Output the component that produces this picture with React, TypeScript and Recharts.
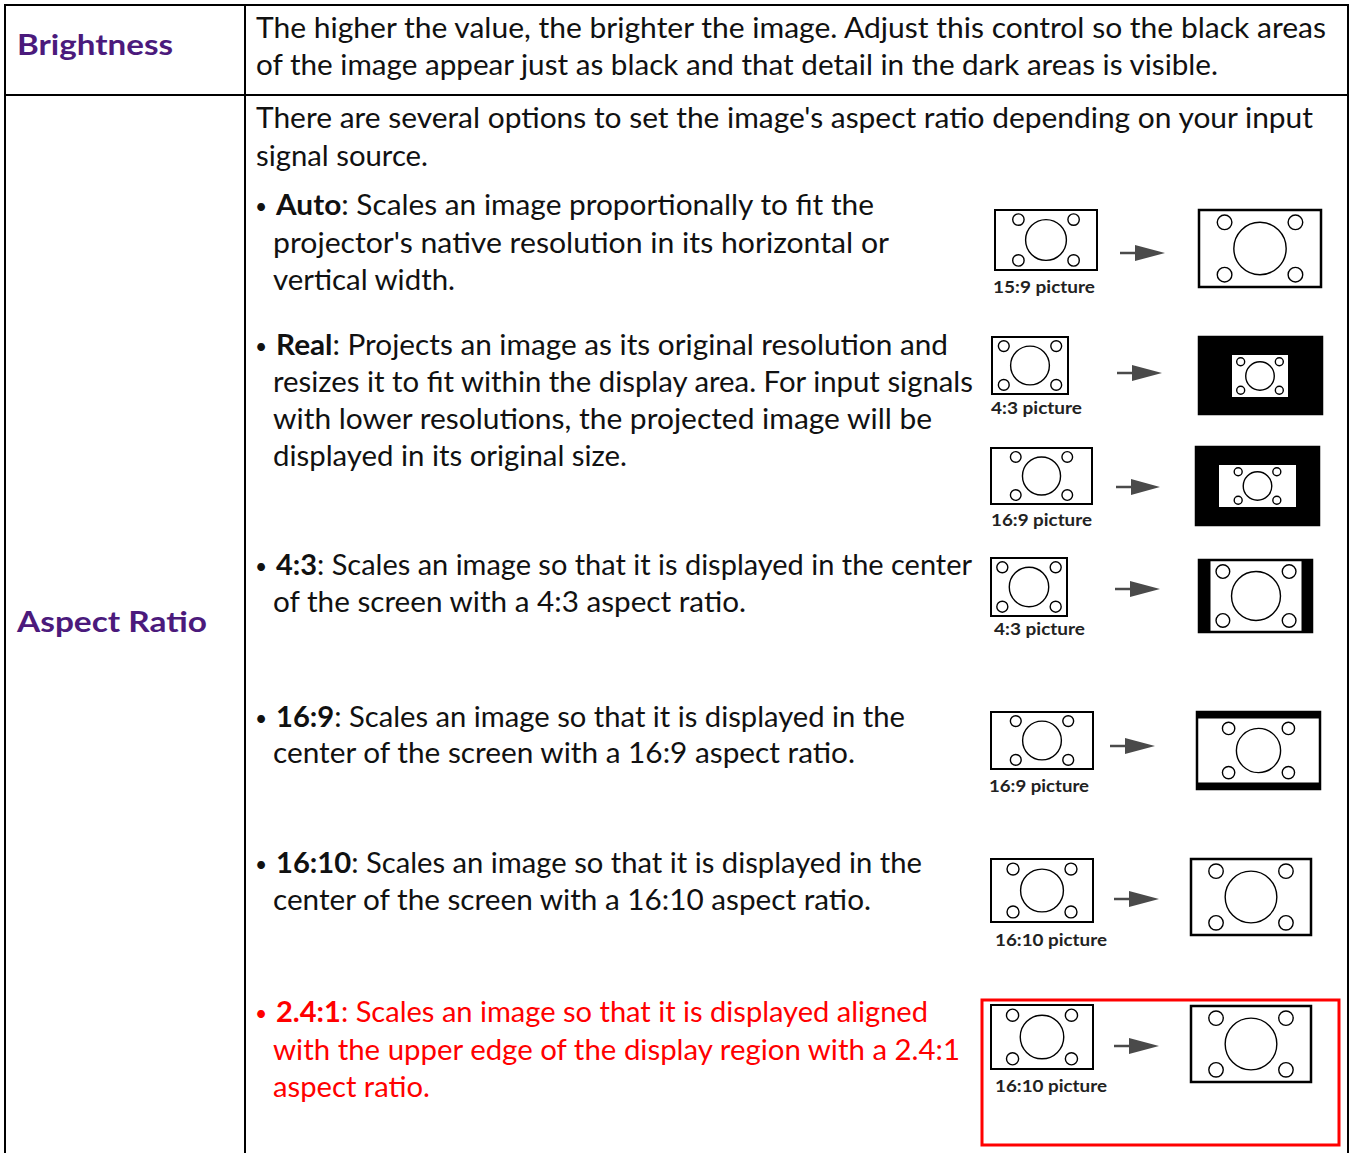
import React from 'react';
import { ScatterChart, Scatter, XAxis, YAxis, ReferenceArea } from 'recharts';

const W = 1353;
const H = 1153;
const FONT = 'Lato, "Open Sans", sans-serif';
const PURPLE = '#4b1a7c';
const RED = '#ff0000';
const INK = '#111';

// ---- diagram data, one entry per option row (page pixels, [x1, y1, x2, y2]) ----
const sourceLabels = ['15:9 picture', '4:3 picture', '16:9 picture', '4:3 picture', '16:9 picture', '16:10 picture', '16:10 picture'];

const sourceFrames = [
  [995, 210, 1097, 270],
  [992, 337, 1068, 394],
  [991, 448, 1092, 504],
  [991, 558, 1067, 616],
  [991, 712, 1093, 769],
  [991, 859, 1093, 922],
  [991, 1005, 1093, 1069],
];

const screenFrames = [
  [1199, 210, 1321, 287],
  [1199, 337, 1322, 414],
  [1196, 447, 1319, 525],
  [1199, 560, 1312, 632],
  [1197, 712, 1320, 789],
  [1191, 859, 1311, 935],
  [1191, 1006, 1311, 1082],
];

const blackMasks = [
  [1199, 337, 1322, 414],
  [1196, 447, 1319, 525],
  [1199, 560, 1210, 632],
  [1302, 560, 1312, 632],
  [1197, 712, 1320, 718],
  [1197, 783, 1320, 789],
];

const imageWindows = [
  [1232, 355, 1288, 397],
  [1219, 465, 1296, 507],
];

const targetImages = [
  [1199, 210, 1321, 287],
  [1232, 355, 1288, 397],
  [1219, 465, 1296, 507],
  [1210, 560, 1302, 632],
  [1197, 718, 1320, 783],
  [1191, 859, 1311, 935],
  [1191, 1006, 1311, 1082],
];

// [shaft start, tip, y]
const arrows = [
  [1120, 1165, 253],
  [1117, 1162, 373],
  [1116, 1160, 487],
  [1115, 1160, 589],
  [1110, 1155, 746],
  [1114, 1159, 899],
  [1114, 1159, 1046],
];

const highlightBox = [982, 1000, 1339, 1145];

// [x, baseline, right edge]
const labelPos = [
  [993, 293, 1095],
  [991, 414, 1082],
  [991, 526, 1092],
  [994, 635, 1085],
  [989, 792, 1089],
  [995, 946, 1107],
  [995, 1092, 1107],
];

// ---- text ----
const brightnessLines = [
  'The higher the value, the brighter the image. Adjust this control so the black areas',
  'of the image appear just as black and that detail in the dark areas is visible.',
];
const brightnessEnds = [1326, 1218];

const introLines = [
  "There are several options to set the image's aspect ratio depending on your input",
  'signal source.',
];
const introEnds = [1313, 428];

const optionKeys = ['Auto', 'Real', '4:3', '16:9', '16:10', '2.4:1'];
const optionLines = [
  [': Scales an image proportionally to fit the', "projector's native resolution in its horizontal or", 'vertical width.'],
  [': Projects an image as its original resolution and', 'resizes it to fit within the display area. For input signals', 'with lower resolutions, the projected image will be', 'displayed in its original size.'],
  [': Scales an image so that it is displayed in the center', 'of the screen with a 4:3 aspect ratio.'],
  [': Scales an image so that it is displayed in the', 'center of the screen with a 16:9 aspect ratio.'],
  [': Scales an image so that it is displayed in the', 'center of the screen with a 16:10 aspect ratio.'],
  [': Scales an image so that it is displayed aligned', 'with the upper edge of the display region with a 2.4:1', 'aspect ratio.'],
];
const optionBaselines = [
  [215, 253, 290],
  [355, 392, 429, 466],
  [575, 612],
  [727, 763],
  [873, 910],
  [1022, 1060, 1097],
];
const optionEnds = [
  [874, 889, 455],
  [948, 973, 932, 627],
  [972, 746],
  [905, 855],
  [922, 871],
  [928, 960, 430],
];

const center = (r: number[]) => ({ x: (r[0] + r[2]) / 2, y: (r[1] + r[3]) / 2, w: r[2] - r[0], h: r[3] - r[1] });
const pictures = [...sourceFrames, ...targetImages].map(center);
const arrowPoints = arrows.map(([x, tip, y]) => ({ x, y, len: tip - x }));

const PictureGlyph = (props: any) => {
  const { cx, cy, payload } = props;
  const h = payload.h;
  const dx = 0.46 * h;
  const dy = 0.34 * h;
  const r = 0.095 * h;
  const common = { fill: 'none', stroke: '#000', strokeWidth: 1.4 };
  return (
    <g>
      <circle cx={cx} cy={cy} r={0.34 * h} {...common} />
      <circle cx={cx - dx} cy={cy - dy} r={r} {...common} />
      <circle cx={cx + dx} cy={cy - dy} r={r} {...common} />
      <circle cx={cx - dx} cy={cy + dy} r={r} {...common} />
      <circle cx={cx + dx} cy={cy + dy} r={r} {...common} />
    </g>
  );
};

const ArrowGlyph = (props: any) => {
  const { cx, cy, payload } = props;
  const len = payload.len;
  const shaft = 15;
  return (
    <g>
      <line x1={cx} y1={cy} x2={cx + shaft + 2} y2={cy} stroke="#4a4a4a" strokeWidth={2.5} />
      <path d={`M${cx + shaft},${cy - 8} L${cx + len},${cy} L${cx + shaft},${cy + 8} Z`} fill="#4a4a4a" />
    </g>
  );
};

function TextLine({ x, y, end, color = INK, size = 28, children }: any) {
  return (
    <text x={x} y={y} textLength={end - x} lengthAdjust="spacingAndGlyphs" fontSize={size} fill={color} fontFamily={FONT}>
      {children}
    </text>
  );
}

export default function App() {
  const area = (r: number[], key: string, fill: string, stroke: string, sw: number) => (
    <ReferenceArea
      key={key}
      x1={r[0]}
      x2={r[2]}
      y1={r[1]}
      y2={r[3]}
      fill={fill}
      fillOpacity={1}
      stroke={stroke}
      strokeWidth={sw}
      ifOverflow="visible"
    />
  );

  return (
    <div style={{ position: 'absolute', left: 0, top: 0, width: W, height: H, background: '#fff', overflow: 'hidden' }}>
      <div style={{ position: 'absolute', left: 0, top: 0 }}>
        <ScatterChart width={W} height={H} margin={{ top: 0, right: 0, bottom: 0, left: 0 }}>
          <XAxis type="number" dataKey="x" domain={[0, W]} hide allowDataOverflow />
          <YAxis type="number" dataKey="y" domain={[0, H]} reversed hide allowDataOverflow />
          {sourceFrames.map((r, i) => area(r, 'src' + i, '#fff', '#000', 2))}
          {screenFrames.map((r, i) => area(r, 'scr' + i, '#fff', '#000', 2.5))}
          {blackMasks.map((r, i) => area(r, 'mask' + i, '#000', '#000', 1))}
          {imageWindows.map((r, i) => area(r, 'win' + i, '#fff', 'none', 0))}
          {area(highlightBox, 'hl', 'none', RED, 3)}
          <Scatter data={pictures} shape={PictureGlyph} isAnimationActive={false} />
          <Scatter data={arrowPoints} shape={ArrowGlyph} isAnimationActive={false} />
        </ScatterChart>
      </div>

      <svg width={W} height={H} style={{ position: 'absolute', left: 0, top: 0, pointerEvents: 'none' }}>
        {/* table rules */}
        <g stroke="#000" strokeWidth={2}>
          <line x1={5} y1={4} x2={5} y2={H} />
          <line x1={1348} y1={4} x2={1348} y2={H} />
          <line x1={4} y1={5} x2={1349} y2={5} />
          <line x1={4} y1={95} x2={1349} y2={95} />
          <line x1={245} y1={5} x2={245} y2={H} />
        </g>

        <TextLine x={17} y={55} end={173} color={PURPLE} size={29}>
          <tspan fontWeight="bold">Brightness</tspan>
        </TextLine>
        <TextLine x={17} y={632} end={207} color={PURPLE} size={29}>
          <tspan fontWeight="bold">Aspect Ratio</tspan>
        </TextLine>

        {brightnessLines.map((t, i) => (
          <TextLine key={'b' + i} x={256} y={38 + i * 37} end={brightnessEnds[i]}>{t}</TextLine>
        ))}
        {introLines.map((t, i) => (
          <TextLine key={'in' + i} x={256} y={128 + i * 38} end={introEnds[i]}>{t}</TextLine>
        ))}

        {optionKeys.map((k, oi) => {
          const color = oi === optionKeys.length - 1 ? RED : INK;
          return (
            <g key={k}>
              <text x={255} y={optionBaselines[oi][0] - 1} fontSize={21} fill={color} fontFamily={FONT}>•</text>
              {optionLines[oi].map((t, li) => (
                <TextLine key={li} x={li === 0 ? 276 : 273} y={optionBaselines[oi][li]} end={optionEnds[oi][li]} color={color}>
                  {li === 0 && <tspan fontWeight="bold">{k}</tspan>}
                  <tspan>{t}</tspan>
                </TextLine>
              ))}
            </g>
          );
        })}

        {sourceLabels.map((t, i) => (
          <TextLine key={'l' + i} x={labelPos[i][0]} y={labelPos[i][1]} end={labelPos[i][2]} size={17} color="#222">
            <tspan fontWeight="bold">{t}</tspan>
          </TextLine>
        ))}
      </svg>
    </div>
  );
}
